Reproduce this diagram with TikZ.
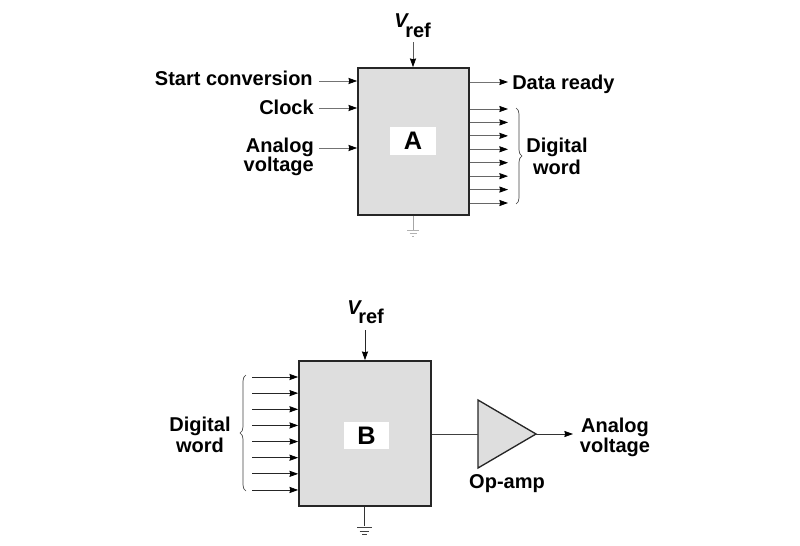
\documentclass[tikz,border=0pt]{standalone}
\usepackage{fontspec}
\setmainfont{Liberation Sans}
\usetikzlibrary{arrows.meta,decorations.pathreplacing,shapes.geometric}
\tikzset{
  lbl/.style={font=\fontsize{15}{18}\selectfont\bfseries,inner sep=0pt,text=black},
  blockbox/.style={draw=black!85,line width=1.3pt,fill=black!13,inner sep=0pt,minimum width=#1},
  tag/.style={fill=white,inner sep=0pt,font=\fontsize{19}{22}\selectfont\bfseries,text=black},
  sig/.style={draw=black!#1,line width=0.55pt,-{Stealth[length=6.5pt,width=4.6pt,inset=0.6pt,black]}},
  sig/.default=80,
  gnd/.style={draw=black!#1,line width=0.55pt},
  bracepath/.style={draw=black!75,line width=0.5pt,decorate,decoration={brace,amplitude=4.5pt}},
}
\begin{document}
\begin{tikzpicture}[x=0.75pt,y=-0.75pt]
\useasboundingbox (0,0) rectangle (800,546);
% Block A
\node[blockbox=83.25pt,minimum height=110.25pt] (A) at (413.5,141.5) {};
\node[tag,minimum width=34.5pt,minimum height=21pt] (Atag) at (413,141) {A};
\node[lbl,anchor=base east] (startT) at (313,85) {Start conversion};
\node[lbl,anchor=base east] (clockT) at (314,114) {Clock};
\node[lbl,anchor=base east] (analogT) at (314,152) {Analog};
\node[lbl,anchor=base east] (voltT) at (314,171) {voltage};
\coordinate (s1) at (319,81);
\coordinate (s2) at (319,108);
\coordinate (s3) at (319,148);
\draw[sig=55] (s1) -- (s1 -| A.west);
\draw[sig=55] (s2) -- (s2 -| A.west);
\draw[sig=55] (s3) -- (s3 -| A.west);
\node[lbl,anchor=base west,font=\fontsize{15}{18}\selectfont\bfseries\itshape] (vA) at (394,27) {V};
\node[lbl,anchor=base west] (refA) at (405,37) {ref};
\coordinate (vAin) at (413,42);
\draw[sig=65] (vAin) -- (vAin |- A.north);
\coordinate (dr) at (508,82);
\node[lbl,anchor=base west] (drT) at (512,89) {Data ready};
\draw[sig=55] (dr -| A.east) -- (dr);
\foreach \i [evaluate=\i as \yy using 109+13.43*\i] in {0,...,7}{
  \coordinate (o\i) at (508,\yy);
  \draw[sig=60] (o\i -| A.east) -- (o\i);
}
\coordinate (bAt) at (516,108);
\coordinate (bAb) at (516,204);
\draw[bracepath] (bAt) -- (bAb);
\node[lbl] (dwA1) at (557,147) {Digital};
\node[lbl] (dwA2) at (557,167) {word};
\coordinate (gA) at (413,230);
\draw[gnd=35] (A.south -| gA) -- (gA);
\draw[gnd=30] (407,230) -- (419,230) (409.5,233) -- (416.5,233) (412,236) -- (414,236);
% Block B
\node[blockbox=99pt,minimum height=108.75pt] (B) at (365,433.5) {};
\node[tag,minimum width=33.75pt,minimum height=20.25pt] (Btag) at (366.5,435.5) {B};
\node[lbl,anchor=base west,font=\fontsize{15}{18}\selectfont\bfseries\itshape] (vB) at (347,314) {V};
\node[lbl,anchor=base west] (refB) at (358,323) {ref};
\coordinate (vBin) at (365,330);
\draw[sig=85] (vBin) -- (vBin |- B.north);
\foreach \i [evaluate=\i as \yy using 377+16.14*\i] in {0,...,7}{
  \coordinate (i\i) at (252,\yy);
  \draw[sig=85] (i\i) -- (i\i -| B.west);
}
\coordinate (bBb) at (246,491);
\coordinate (bBt) at (246,375);
\draw[bracepath] (bBb) -- (bBt);
\node[lbl] (dwB1) at (200,426) {Digital};
\node[lbl] (dwB2) at (200,445) {word};
\coordinate (gB) at (364,526);
\draw[gnd=80] (B.south -| gB) -- (gB);
\draw[gnd=75] (357,527) -- (372,527) (359.5,531) -- (369,531) (362,534.5) -- (366.5,534.5);
% Op-amp
\coordinate (opL1) at (478,400);
\coordinate (opL2) at (478,468);
\coordinate (opT) at (536,434);
\coordinate (opIn) at (478,434);
\coordinate (opOut) at (573,434);
\draw[draw=black!85,line width=1pt,fill=black!13,line join=miter] (opL1) -- (opT) -- (opL2) -- cycle;
\draw[draw=black!75,line width=0.65pt] (opIn -| B.east) -- (opIn);
\draw[sig=80] (opT) -- (opOut);
\node[lbl] (opT1) at (507,484) {Op-amp};
\node[lbl,anchor=base] (anT1) at (615,432) {Analog};
\node[lbl,anchor=base] (anT2) at (615,452) {voltage};
\end{tikzpicture}
\end{document}
